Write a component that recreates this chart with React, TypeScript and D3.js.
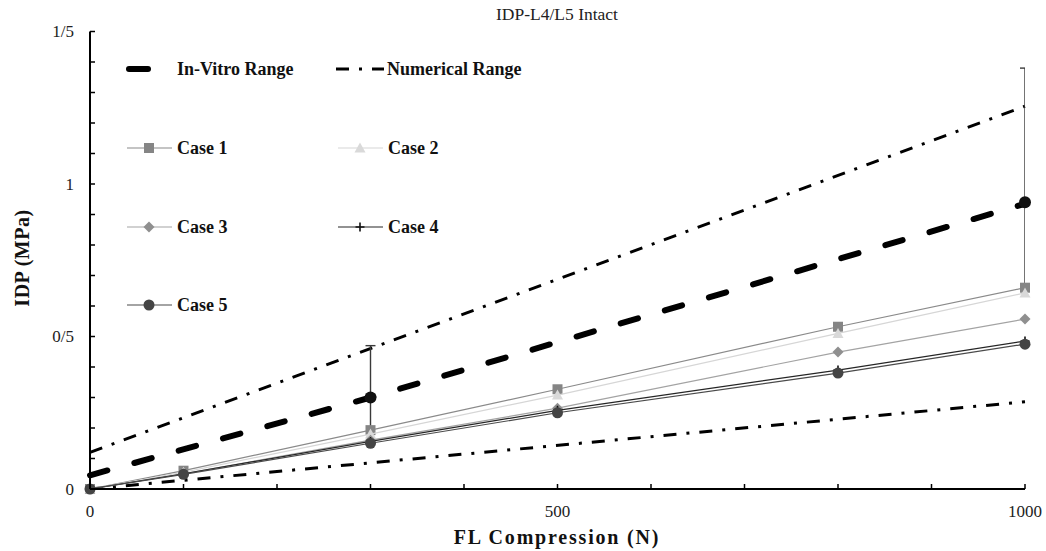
import React from "react";
import * as d3 from "d3";

// ---- data ----
const xPoints = [0, 100, 300, 500, 800, 1000];
const case1 = [0, 0.06, 0.193, 0.327, 0.532, 0.66];
const case2 = [0, 0.055, 0.18, 0.308, 0.51, 0.643];
const case3 = [0, 0.05, 0.16, 0.265, 0.449, 0.557];
const case4 = [0, 0.05, 0.156, 0.258, 0.39, 0.485];
const case5 = [0, 0.048, 0.15, 0.25, 0.38, 0.475];

const inVitroX = [0, 300, 1000];
const inVitroY = [0.045, 0.3, 0.935];
const numUpperX = [0, 1000];
const numUpperY = [0.12, 1.255];
const numLowerX = [0, 1000];
const numLowerY = [0.0, 0.286];

const expX = [300, 1000];
const expY = [0.3, 0.94];
const expLow = [0.19, 0.66];
const expHigh = [0.47, 1.38];

const xTickValues = [0, 500, 1000];
const xTickLabels = ["0", "500", "1000"];
const yTickValues = [0, 0.5, 1, 1.5];
const yTickLabels = ["0", "0/5", "1", "1/5"];

const W = 1046;
const H = 551;
const FONT = "'Liberation Serif', 'Times New Roman', serif";

type Marker = "square" | "triangle" | "diamond" | "plus" | "circle";

const cases: { name: string; values: number[]; line: string; fill: string; marker: Marker }[] = [
  { name: "Case 1", values: case1, line: "#8a8a8a", fill: "#858585", marker: "square" },
  { name: "Case 2", values: case2, line: "#d6d6d6", fill: "#d9d9d9", marker: "triangle" },
  { name: "Case 3", values: case3, line: "#a3a3a3", fill: "#8f8f8f", marker: "diamond" },
  { name: "Case 4", values: case4, line: "#262626", fill: "#111111", marker: "plus" },
  { name: "Case 5", values: case5, line: "#4a4a4a", fill: "#444444", marker: "circle" },
];

function MarkerShape({ type, cx, cy, fill }: { type: Marker; cx: number; cy: number; fill: string }) {
  if (type === "square") return <rect x={cx - 5} y={cy - 5} width={10} height={10} fill={fill} />;
  if (type === "triangle")
    return <path d={`M${cx},${cy - 5.5}L${cx + 5.5},${cy + 4.5}L${cx - 5.5},${cy + 4.5}Z`} fill={fill} />;
  if (type === "diamond")
    return <path d={`M${cx},${cy - 5.5}L${cx + 5.5},${cy}L${cx},${cy + 5.5}L${cx - 5.5},${cy}Z`} fill={fill} />;
  if (type === "plus")
    return (
      <path d={`M${cx - 4.5},${cy}H${cx + 4.5}M${cx},${cy - 4.5}V${cy + 4.5}`} stroke={fill} strokeWidth={1.6} />
    );
  return <circle cx={cx} cy={cy} r={5.5} fill={fill} />;
}

export default function App() {
  const x = d3.scaleLinear().domain([0, 1000]).range([90, 1025]);
  const y = d3.scaleLinear().domain([0, 1.5]).range([489, 31.5]);
  const line = d3
    .line<[number, number]>()
    .x((d) => x(d[0]))
    .y((d) => y(d[1]));
  const zip = (xs: number[], ys: number[]) => xs.map((v, i) => [v, ys[i]] as [number, number]);

  const xMinor = d3.range(0, 1001, 100);
  const yMinor = d3.range(0, 16).map((i) => i / 10);

  const legendTop = [
    { name: "In-Vitro Range", x0: 126, y0: 69, kind: "vitro" },
    { name: "Numerical Range", x0: 336, y0: 69, kind: "num" },
  ];
  const legendCasePos = [
    { x0: 127, y0: 148 },
    { x0: 338, y0: 148 },
    { x0: 127, y0: 227 },
    { x0: 338, y0: 227 },
    { x0: 127, y0: 305 },
  ];

  const vitroDash = "18 28";
  const numDash = "13 10 3 10";

  return (
    <svg width={W} height={H} style={{ position: "absolute", left: 0, top: 0, background: "#fff" }} fontFamily={FONT}>
      <defs>
        <clipPath id="plotClip">
          <rect x={x(0)} y={0} width={x(1000) - x(0)} height={H} />
        </clipPath>
      </defs>
      <rect width={W} height={H} fill="#fff" />

      {/* title */}
      <text x={557} y={20} textAnchor="middle" fontSize={17.5} fill="#222">
        IDP-L4/L5 Intact
      </text>

      {/* numerical range */}
      <path d={line(zip(numUpperX, numUpperY)) || ""} fill="none" stroke="#000" strokeWidth={3} strokeDasharray={numDash} />
      <path d={line(zip(numLowerX, numLowerY)) || ""} fill="none" stroke="#000" strokeWidth={3} strokeDasharray={numDash} />
      {/* in-vitro */}
      <path
        d={line(zip(inVitroX, inVitroY)) || ""}
        fill="none"
        stroke="#000"
        strokeWidth={6}
        strokeLinecap="round"
        strokeDasharray={vitroDash}
      />

      {/* error bars */}
      <g clipPath="url(#plotClip)">
        {expX.map((v, i) => (
          <g key={i} stroke="#3a3a3a" strokeWidth={1.4}>
            <line x1={x(v)} x2={x(v)} y1={y(expLow[i])} y2={y(expHigh[i])} />
            <line x1={x(v) - 5} x2={x(v) + 5} y1={y(expHigh[i])} y2={y(expHigh[i])} />
          </g>
        ))}
      </g>
      {expX.map((v, i) => (
        <circle key={i} cx={x(v)} cy={y(expY[i])} r={6} fill="#111" />
      ))}

      {/* cases */}
      {cases.map((c) => (
        <g key={c.name}>
          <path d={line(zip(xPoints, c.values)) || ""} fill="none" stroke={c.line} strokeWidth={1.2} />
          {xPoints.map((v, i) => (
            <MarkerShape key={i} type={c.marker} cx={x(v)} cy={y(c.values[i])} fill={c.fill} />
          ))}
        </g>
      ))}

      {/* axes */}
      <line x1={x(0)} x2={x(0)} y1={y(0)} y2={y(1.5)} stroke="#000" strokeWidth={2} />
      <line x1={x(0)} x2={x(1000)} y1={y(0)} y2={y(0)} stroke="#000" strokeWidth={2} />
      {yMinor.map((v) => (
        <line key={v} x1={x(0)} x2={x(0) + 5} y1={y(v)} y2={y(v)} stroke="#000" strokeWidth={1.5} />
      ))}
      {xMinor.map((v) => (
        <line key={v} x1={x(v)} x2={x(v)} y1={y(0)} y2={y(0) - 5} stroke="#000" strokeWidth={1.5} />
      ))}
      {yTickValues.map((v, i) => (
        <text key={v} x={x(0) - 16} y={y(v)} dy="0.35em" textAnchor="end" fontSize={17} fill="#222">
          {yTickLabels[i]}
        </text>
      ))}
      {xTickValues.map((v, i) => (
        <text key={v} x={x(v)} y={y(0) + 28} textAnchor="middle" fontSize={17} fill="#222">
          {xTickLabels[i]}
        </text>
      ))}

      {/* axis titles */}
      <text x={557} y={544} textAnchor="middle" fontSize={20} fontWeight="bold" letterSpacing={1.8} fill="#111">
        FL Compression (N)
      </text>
      <text
        transform={`translate(29,258) rotate(-90)`}
        textAnchor="middle"
        fontSize={20}
        fontWeight="bold"
        letterSpacing={0.5}
        fill="#111"
      >
        IDP (MPa)
      </text>

      {/* legend */}
      {legendTop.map((l) =>
        l.kind === "vitro" ? (
          <g key={l.name}>
            <line x1={l.x0 + 3} x2={l.x0 + 22} y1={l.y0} y2={l.y0} stroke="#000" strokeWidth={6} strokeLinecap="round" />
            <text x={177} y={l.y0} dy="0.35em" fontSize={18} fontWeight="bold" fill="#111">
              {l.name}
            </text>
          </g>
        ) : (
          <g key={l.name}>
            <line x1={l.x0} x2={l.x0 + 48} y1={l.y0} y2={l.y0} stroke="#000" strokeWidth={3} strokeDasharray={numDash} />
            <text x={387} y={l.y0} dy="0.35em" fontSize={18} fontWeight="bold" fill="#111">
              {l.name}
            </text>
          </g>
        )
      )}
      {cases.map((c, i) => {
        const p = legendCasePos[i];
        return (
          <g key={c.name}>
            <line x1={p.x0} x2={p.x0 + 45} y1={p.y0} y2={p.y0} stroke={c.line} strokeWidth={1.2} />
            <MarkerShape type={c.marker} cx={p.x0 + 22} cy={p.y0} fill={c.fill} />
            <text x={p.x0 + 50} y={p.y0} dy="0.35em" fontSize={18} fontWeight="bold" fill="#111">
              {c.name}
            </text>
          </g>
        );
      })}
    </svg>
  );
}
